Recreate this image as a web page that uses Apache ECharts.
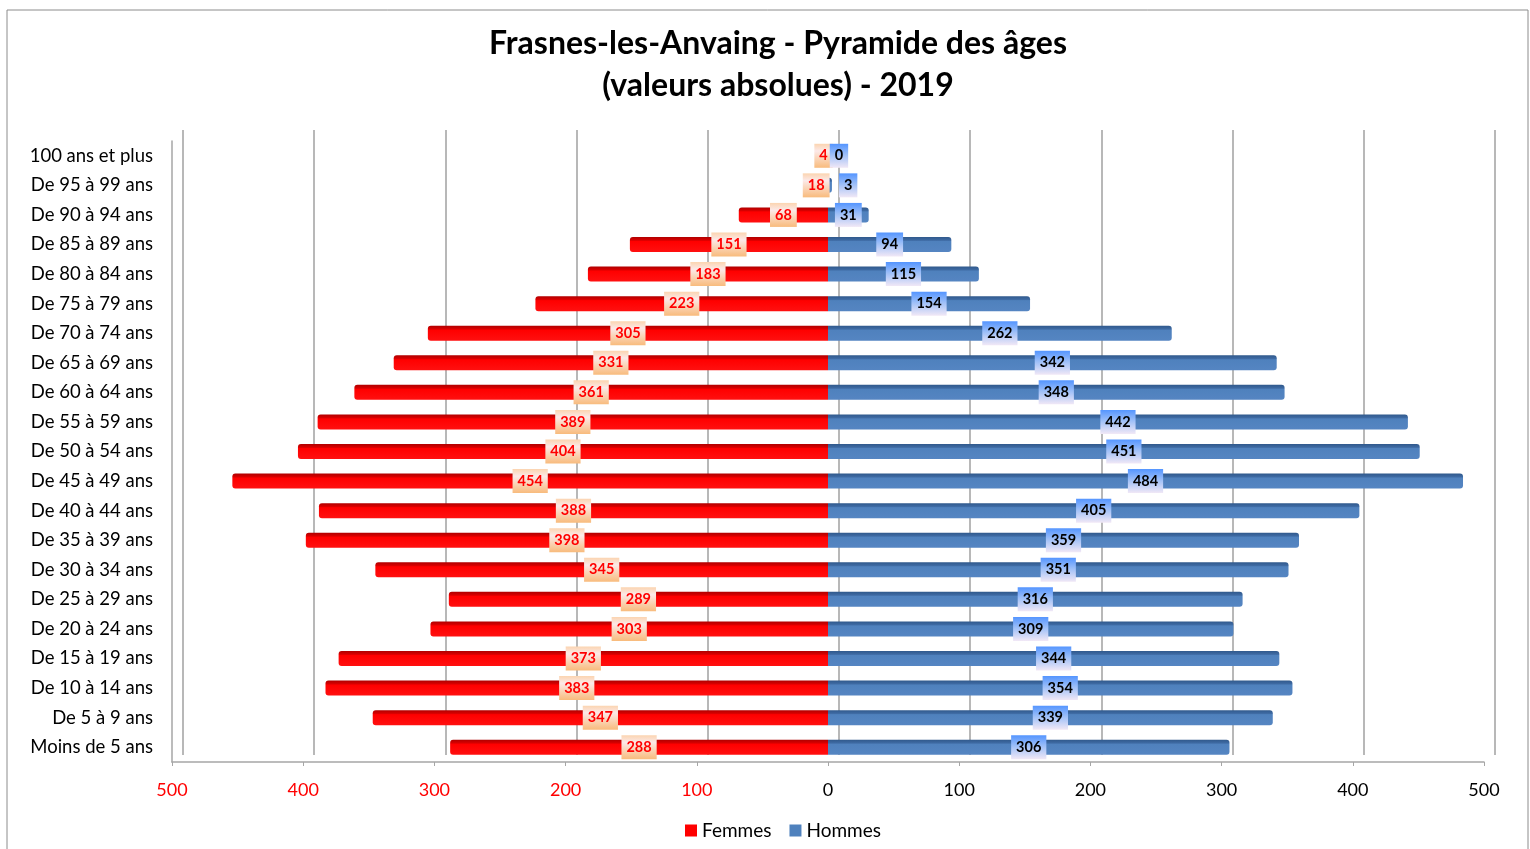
<!DOCTYPE html>
<html>
<head>
<meta charset="utf-8">
<script src="https://cdn.jsdelivr.net/npm/echarts@6/dist/echarts.min.js"></script>
<style>
html,body{margin:0;padding:0;background:#fff;}
#chart{width:1530px;height:849px;}
</style>
</head>
<body>
<div id="chart"></div>
<script>
const categories = ['100 ans et plus','De 95 à 99 ans','De 90 à 94 ans','De 85 à 89 ans','De 80 à 84 ans','De 75 à 79 ans','De 70 à 74 ans','De 65 à 69 ans','De 60 à 64 ans','De 55 à 59 ans','De 50 à 54 ans','De 45 à 49 ans','De 40 à 44 ans','De 35 à 39 ans','De 30 à 34 ans','De 25 à 29 ans','De 20 à 24 ans','De 15 à 19 ans','De 10 à 14 ans','De 5 à 9 ans','Moins de 5 ans'];
const femmes = [4,18,68,151,183,223,305,331,361,389,404,454,388,398,345,289,303,373,383,347,288];
const hommes = [0,3,31,94,115,154,262,342,348,442,451,484,405,359,351,316,309,344,354,339,306];
const xTicks = [-500,-400,-300,-200,-100,0,100,200,300,400,500];

const FONT = 'Lato, "Open Sans", sans-serif';
const chart = echarts.init(document.getElementById('chart'));

const redBar = new echarts.graphic.LinearGradient(0,0,0,1,[
  {offset:0,color:'#b00000'},{offset:0.22,color:'#d80000'},{offset:0.3,color:'#ff0000'},{offset:1,color:'#ff1010'}]);
const blueBar = new echarts.graphic.LinearGradient(0,0,0,1,[
  {offset:0,color:'#30598c'},{offset:0.22,color:'#3e6aa3'},{offset:0.3,color:'#4f81bd'},{offset:1,color:'#5585c2'}]);
const redLabelBg = new echarts.graphic.LinearGradient(0,0,0,1,[
  {offset:0,color:'#fbd4b0'},{offset:0.3,color:'#fce9e8'},{offset:1,color:'#f8bb7c'}]);
const blueLabelBg = new echarts.graphic.LinearGradient(0,0,0,1,[
  {offset:0,color:'#5495ff'},{offset:0.45,color:'#9dbff8'},{offset:1,color:'#f1e8f6'}]);

const labelBase = {
  show: true,
  fontFamily: FONT,
  fontWeight: 'bold',
  fontSize: 14.5,
  lineHeight: 15,
  padding: [5,5,4,5],
  formatter: p => Math.abs(p.value)
};

const femmesData = femmes.map(v => v < 10
  ? {value: -v, label: {position: 'left', distance: -10}}
  : -v);
const hommesData = hommes.map(v => v < 10
  ? {value: v, label: {position: 'right', distance: 7}}
  : v);

chart.setOption({
  animation: false,
  backgroundColor: '#fff',
  title: {
    text: 'Frasnes-les-Anvaing - Pyramide des âges\n(valeurs absolues) - 2019',
    left: 773,
    textAlign: 'center',
    top: 18,
    textStyle: {fontFamily: FONT, fontSize: 32, fontWeight: 'bold', color: '#000', lineHeight: 42}
  },
  legend: {
    bottom: 4,
    left: 680,
    itemWidth: 12,
    itemHeight: 12,
    itemGap: 18,
    icon: 'rect',
    textStyle: {fontFamily: FONT, fontSize: 19, color: '#000'},
    data: [{name:'Femmes', itemStyle:{color:'#ff0000'}}, {name:'Hommes', itemStyle:{color:'#4f81bd'}}]
  },
  graphic: [{
    type: 'rect', silent: true,
    shape: {x: 7, y: 10, width: 1521, height: 845},
    style: {fill: 'none', stroke: '#8c8c8c', lineWidth: 1}
  }],
  grid: [
    {left: 172, right: 46, top: 141, bottom: 87, containLabel: false},
    {left: 183, right: 35, top: 130, bottom: 94, containLabel: false}
  ],
  xAxis: [{
    gridIndex: 0,
    type: 'value',
    min: -500, max: 500, interval: 100,
    axisLine: {show: true, lineStyle: {color: '#a6a6a6', width: 1.5}},
    axisTick: {show: true, length: 4, lineStyle: {color: '#a6a6a6'}},
    splitLine: {show: false},
    axisLabel: {
      margin: 19,
      fontFamily: FONT, fontSize: 18,
      color: v => (v < 0 ? '#ff0000' : '#000'),
      formatter: v => Math.abs(v)
    }
  }, {
    gridIndex: 1,
    type: 'value',
    min: -500, max: 500, interval: 100,
    axisLine: {show: false}, axisTick: {show: false}, axisLabel: {show: false},
    splitLine: {show: true, lineStyle: {color: '#a0a0a0', width: 1.5}}
  }],
  yAxis: [{
    gridIndex: 0,
    type: 'category',
    inverse: true,
    data: categories,
    axisLine: {show: true, onZero: false, lineStyle: {color: '#a6a6a6', width: 1.5}},
    axisTick: {show: false},
    axisLabel: {margin: 19, fontFamily: FONT, fontSize: 18.5, color: '#000'}
  }, {
    gridIndex: 1,
    type: 'value',
    show: false
  }],
  series: [{
    name: 'Femmes',
    type: 'bar',
    stack: 'pop',
    xAxisIndex: 0, yAxisIndex: 0,
    barWidth: 15,
    data: femmesData,
    itemStyle: {color: redBar, borderRadius: [3,0,0,3]},
    label: Object.assign({}, labelBase, {position: 'inside', color: '#ff0000', backgroundColor: redLabelBg})
  }, {
    name: 'Hommes',
    type: 'bar',
    stack: 'pop',
    xAxisIndex: 0, yAxisIndex: 0,
    barWidth: 15,
    data: hommesData,
    itemStyle: {color: blueBar, borderRadius: [0,3,3,0]},
    label: Object.assign({}, labelBase, {position: 'inside', color: '#000', backgroundColor: blueLabelBg})
  }]
});
</script>
</body>
</html>
